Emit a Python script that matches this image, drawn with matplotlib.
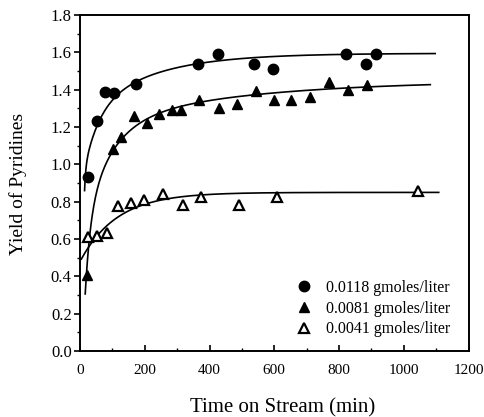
import numpy as np
import matplotlib.pyplot as plt
from matplotlib.ticker import MultipleLocator

plt.rcParams['font.family'] = ['Liberation Serif', 'DejaVu Serif']

# measured yields, 0.0118 gmoles/liter feed
t_high = [24, 51, 77, 106, 172, 365, 425, 538, 595, 823, 882, 913]
y_high = [0.93, 1.23, 1.39, 1.38, 1.43, 1.54, 1.59, 1.54, 1.51, 1.59, 1.54, 1.59]

# 0.0081 gmoles/liter
t_mid = [23, 102, 128, 166, 207, 244, 284, 313, 369, 428, 485, 544, 600, 653, 711, 769, 829, 887]
y_mid = [0.41, 1.08, 1.145, 1.26, 1.22, 1.27, 1.29, 1.29, 1.345, 1.30, 1.325, 1.395,
         1.345, 1.345, 1.36, 1.44, 1.40, 1.425]

# 0.0041 gmoles/liter
t_low = [24, 51, 82, 118, 159, 198, 256, 318, 374, 490, 608, 1044]
y_low = [0.61, 0.615, 0.635, 0.775, 0.795, 0.81, 0.84, 0.785, 0.825, 0.785, 0.825, 0.855]

# fitted curves: y = A - sum(B * exp(-t / tau)), drawn between t_start and t_end
fit_high = dict(A=1.595, B=[5.3, 0.404, 0.342], tau=[3.7, 45, 200], t_start=14, t_end=1097)
fit_mid = dict(A=1.45, B=[1.04, 0.617, 0.253], tau=[16.5, 80, 450], t_start=16, t_end=1082)
fit_low = dict(A=0.85, B=[0.37], tau=[113.6], t_start=4, t_end=1108)

labels = ['0.0118 gmoles/liter', '0.0081 gmoles/liter', '0.0041 gmoles/liter']


def fit_curve(p):
    t = np.linspace(p['t_start'], p['t_end'], 600)
    y = np.full_like(t, p['A'])
    for b, tau in zip(p['B'], p['tau']):
        y -= b * np.exp(-t / tau)
    return t, y


fig = plt.figure(figsize=(4.85, 4.17), dpi=100)
ax = fig.add_axes([0.165, 0.158, 0.801, 0.806])

for p in (fit_high, fit_mid, fit_low):
    t, y = fit_curve(p)
    ax.plot(t, y, color='black', lw=1.2, zorder=2)

ax.plot(t_high, y_high, 'o', color='black', ms=7.5, ls='none', label=labels[0], zorder=3)
ax.plot(t_mid, y_mid, '^', color='black', ms=7.5, ls='none', label=labels[1], zorder=3)
ax.plot(t_low, y_low, '^', mfc='white', mec='black', mew=1.6, ms=6.5, ls='none',
        label=labels[2], zorder=3)

ax.set_xlim(0, 1200)
ax.set_ylim(0, 1.8)
ax.xaxis.set_major_locator(MultipleLocator(200))
ax.xaxis.set_minor_locator(MultipleLocator(100))
ax.yaxis.set_major_locator(MultipleLocator(0.2))
ax.yaxis.set_minor_locator(MultipleLocator(0.1))
ax.yaxis.set_major_formatter(plt.FormatStrFormatter('%.1f'))

ax.tick_params(axis='x', which='both', direction='in', labelsize=11, pad=9)
ax.tick_params(axis='x', which='major', length=4, width=1.2)
ax.tick_params(axis='x', which='minor', length=2.5, width=1)
ax.tick_params(axis='y', which='both', direction='out', labelsize=12, pad=2)
ax.tick_params(axis='y', which='major', length=4, width=1.2)
ax.tick_params(axis='y', which='minor', length=2.5, width=1)

for s in ax.spines.values():
    s.set_linewidth(1.4)

fig.text(0.582, 0.022, 'Time on Stream (min)', fontsize=15, ha='center', va='center')
fig.text(0.038, 0.56, 'Yield of Pyridines', fontsize=14, ha='center', va='center',
         rotation=90)

ax.legend(loc='lower right', bbox_to_anchor=(0.978, 0.012), frameon=False, fontsize=11.5,
          handletextpad=0.4, labelspacing=0.3, borderaxespad=0.2)

fig.savefig('out.png', dpi=100)
